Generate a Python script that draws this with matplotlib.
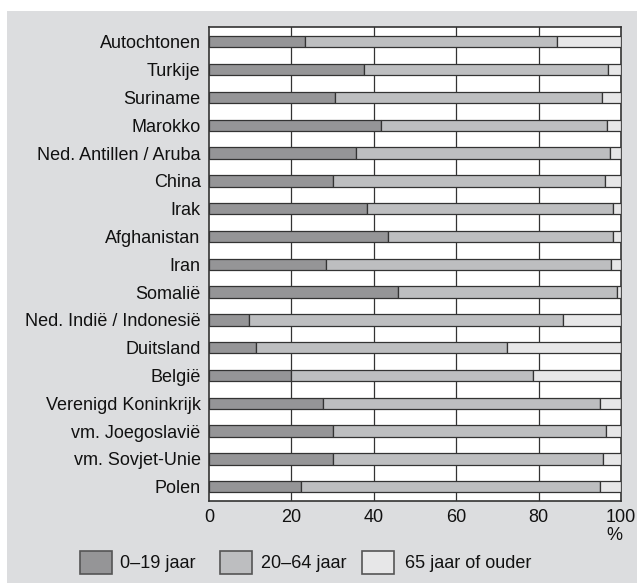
import matplotlib
matplotlib.use("Agg")
import matplotlib.pyplot as plt
from matplotlib.patches import Rectangle
import numpy as np

plt.rcParams['font.family'] = ['Liberation Sans', 'DejaVu Sans']

categories = ["Autochtonen", "Turkije", "Suriname", "Marokko", "Ned. Antillen / Aruba",
              "China", "Irak", "Afghanistan", "Iran", "Somalië", "Ned. Indië / Indonesië",
              "Duitsland", "België", "Verenigd Koninkrijk", "vm. Joegoslavië",
              "vm. Sovjet-Unie", "Polen"]
age_0_19 = [23.4, 37.6, 30.7, 41.8, 35.6, 30.0, 38.4, 43.4, 28.4, 45.9, 9.7,
            11.4, 19.9, 27.7, 30.0, 30.2, 22.3]
age_20_64 = [61.0, 59.2, 64.7, 54.8, 61.8, 66.2, 59.7, 54.6, 69.2, 53.1, 76.2,
             60.9, 58.8, 67.1, 66.4, 65.4, 72.7]
age_65_plus = [100 - a - b for a, b in zip(age_0_19, age_20_64)]
series_labels = ["0–19 jaar", "20–64 jaar", "65 jaar of ouder"]
xticks = [0, 20, 40, 60, 80, 100]

colors = ["#959597", "#bdbec0", "#e7e7e8"]
edge = "#333333"
panel = "#dcdddf"

W, H = 637, 583
fig = plt.figure(figsize=(W / 100, H / 100), dpi=100)
fig.patch.set_facecolor("white")
fig.add_artist(Rectangle((7 / W, 0), 1 - 7 / W, 1 - 11 / H, transform=fig.transFigure,
                         facecolor=panel, edgecolor="none", zorder=-10))

ax = fig.add_axes([209 / W, 1 - 500.7 / H, (621 - 209) / W, (500.7 - 27.3) / H])
ax.set_facecolor("white")
y = np.arange(len(categories))
left = np.zeros(len(categories))
for vals, c in zip([age_0_19, age_20_64, age_65_plus], colors):
    ax.barh(y, vals, left=left, height=0.41, color=c, edgecolor=edge, linewidth=0.9, zorder=3)
    left = left + np.array(vals)

ax.set_xlim(0, 100)
ax.set_ylim(len(categories) - 0.5, -0.52)
ax.set_yticks(y)
ax.set_yticklabels(categories, fontsize=13)
ax.set_xticks(xticks)
ax.set_xticklabels([str(t) for t in xticks], fontsize=13)
ax.tick_params(axis="both", length=0, colors="#111111")
ax.tick_params(axis="y", pad=6)
ax.tick_params(axis="x", pad=6)
for xv in xticks[1:-1]:
    ax.axvline(xv, color=edge, linewidth=0.9, zorder=1)
for s in ax.spines.values():
    s.set_color(edge)
    s.set_linewidth(1.2)

fig.text(622 / W, 1 - 536 / H, "%", ha="right", va="center", fontsize=13, color="#111111")

leg_boxes = [80, 220, 362]
leg_texts = [120, 261, 405]
for bx, tx, c, lab in zip(leg_boxes, leg_texts, colors, series_labels):
    fig.add_artist(Rectangle((bx / W, 1 - 574 / H), 32 / W, 23 / H, transform=fig.transFigure,
                             facecolor=c, edgecolor="#555555", linewidth=1.2))
    fig.text(tx / W, 1 - 563 / H, lab, ha="left", va="center", fontsize=13, color="#111111")

fig.savefig("out.png", dpi=100)
